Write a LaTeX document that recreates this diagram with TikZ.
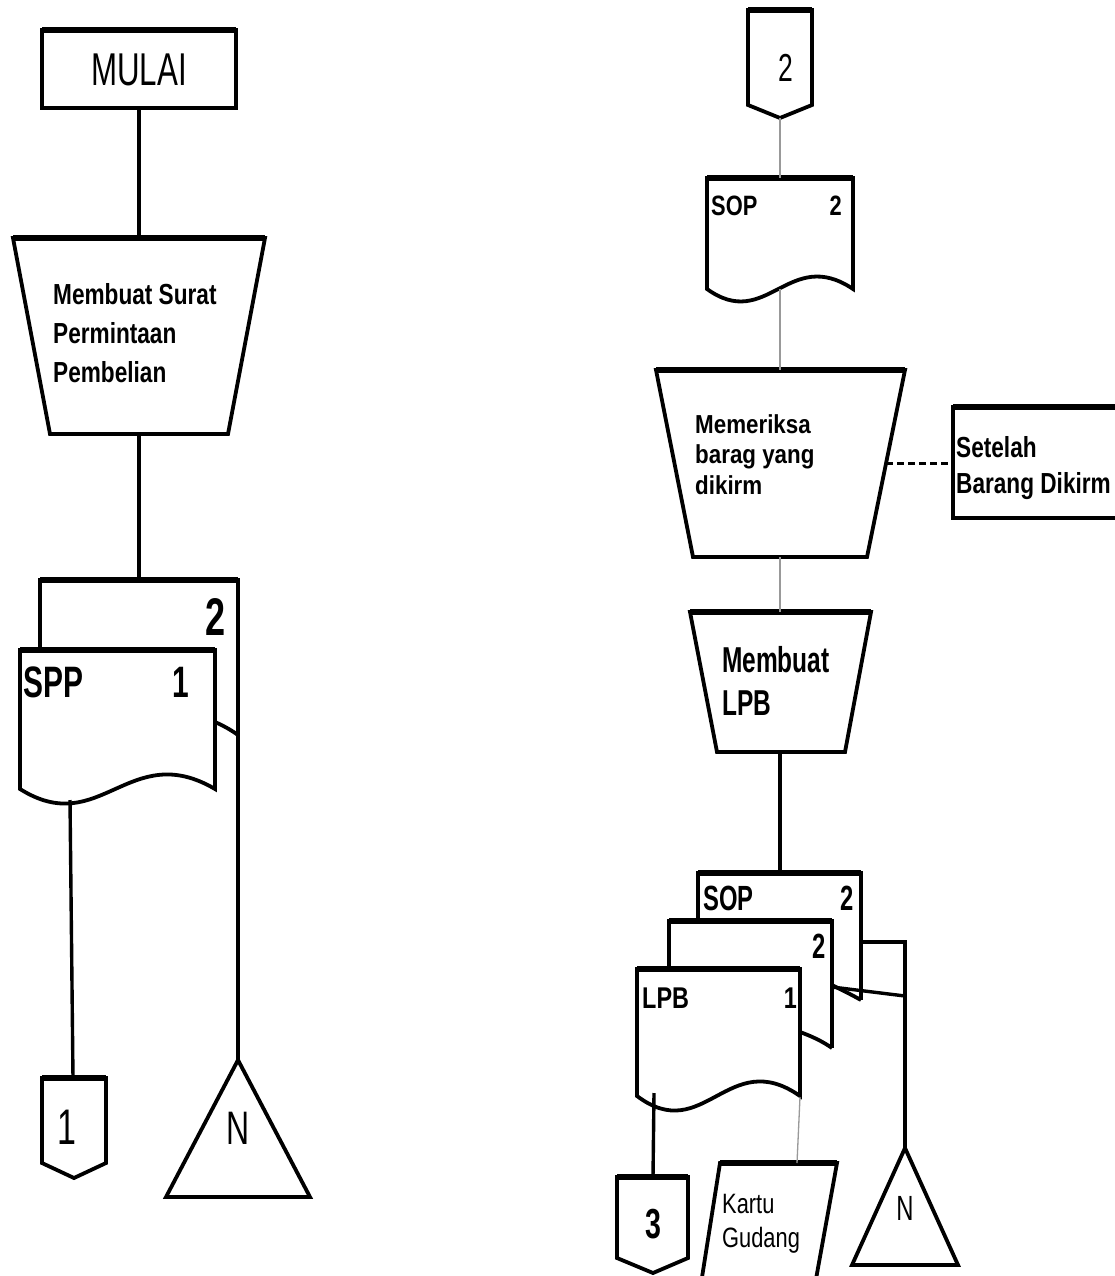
\documentclass[tikz,border=0pt]{standalone}
\usepackage{fontspec}
\newfontfamily\fA[FakeStretch=0.68]{Liberation Sans}
\newfontfamily\fB[FakeStretch=0.78]{Liberation Sans}
\newfontfamily\fC[FakeStretch=0.86]{Liberation Sans}
\tikzset{
  shp/.style={line width=3.8pt, draw=black, fill=white, line join=miter},
  topedge/.style={line width=5.5pt},
  conn/.style={line width=3.4pt, draw=black},
  grayconn/.style={line width=1.3pt, draw=black!40},
  dashconn/.style={line width=3pt, draw=black, dash pattern=on 7pt off 4pt},
  txt/.style={inner sep=0pt, anchor=base west},
}
\newcommand\docshape[5]{%
  \pgfmathsetmacro\dsXa{#3-0.44*(#3-#1)}%
  \pgfmathsetmacro\dsXb{#1+0.41*(#3-#1)}%
  \pgfmathsetmacro\dsYa{#4-3.6*#5}%
  \pgfmathsetmacro\dsYb{#4+3.6*#5}%
  \draw[shp] (#1,#4) -- (#1,#2) -- (#3,#2) -- (#3,#4) .. controls (\dsXa,\dsYa) and (\dsXb,\dsYb) .. (#1,#4) -- cycle;
  \draw[topedge] (#1,#2) -- (#3,#2);
}
\begin{document}
\begin{tikzpicture}[x=1pt,y=-1pt]
\useasboundingbox (0,0) rectangle (1115,1276);

% ================= LEFT COLUMN =================
% MULAI
\draw[shp] (42,30) rectangle (236,108);
\draw[topedge] (42,30) -- (236,30);
\node[txt, anchor=base] (mulai) at (139,86) {\fA\fontsize{46}{50}\selectfont MULAI};
\coordinate (mulaiB) at (139,108);

% Trapezoid 1
\draw[shp] (13,238) -- (265,238) -- (228,434) -- (50,434) -- cycle;
\draw[topedge] (13,238) -- (265,238);
\coordinate (trapAT) at (139,238);
\coordinate (trapAB) at (139,434);
\node[txt] (ta1) at (53,304) {\fB\bfseries\fontsize{29}{35}\selectfont Membuat Surat};
\node[txt] (ta2) at (53,343) {\fB\bfseries\fontsize{29}{35}\selectfont Permintaan};
\node[txt] (ta3) at (53,382) {\fB\bfseries\fontsize{29}{35}\selectfont Pembelian};

% Document stack SPP
\draw[shp] (40,660) -- (40,580) -- (238,580) -- (238,735);
\draw[topedge] (40,580) -- (238,580);
\coordinate (sppBackT) at (139,580);
\coordinate (sppBackR) at (238,735);
\node[txt, anchor=base east] (spp2) at (226,635) {\fA\bfseries\fontsize{53}{55}\selectfont 2};
\docshape{20}{650}{215}{789}{14}
\draw[line width=3.8pt] (215,722) .. controls (224,726) and (231,730) .. (238,735);
\node[txt] (sppT) at (23,697) {\fA\bfseries\fontsize{44}{48}\selectfont SPP};
\node[txt, anchor=base east] (spp1) at (189,697) {\fA\bfseries\fontsize{44}{48}\selectfont 1};
\coordinate (sppB) at (70,800);

% Off-page connector 1
\draw[shp] (42,1078) -- (106,1078) -- (106,1163) -- (74,1178) -- (42,1163) -- cycle;
\draw[topedge] (42,1078) -- (106,1078);
\coordinate (c1T) at (73,1078);
\node[txt, anchor=base] (c1) at (67,1144) {\fA\fontsize{50}{52}\selectfont 1};

% Triangle N (left)
\draw[shp] (238,1060) -- (310,1197) -- (166,1197) -- cycle;
\coordinate (nLT) at (238,1060);
\node[txt, anchor=base] (nL) at (238,1144) {\fA\fontsize{47}{50}\selectfont N};

% Left connectors
\draw[conn] (mulaiB) -- (trapAT);
\draw[conn] (trapAB) -- (sppBackT);
\draw[conn] (sppB) -- (c1T);
\draw[conn] (sppBackR) -- (nLT);

% ================= RIGHT COLUMN =================
% Off-page connector 2
\draw[shp] (748,10) -- (812,10) -- (812,105) -- (780,118) -- (748,105) -- cycle;
\draw[topedge] (748,10) -- (812,10);
\coordinate (c2B) at (780,118);
\node[txt, anchor=base] (c2) at (786,82) {\fA\fontsize{39}{42}\selectfont 2};

% SOP document (top)
\docshape{707}{178}{853}{289}{12}
\coordinate (sopT) at (780,178);
\coordinate (sopB) at (780,289);
\node[txt] (sopA) at (711,215) {\fB\bfseries\fontsize{28}{32}\selectfont SOP};
\node[txt, anchor=base east] (sopA2) at (842,215) {\fB\bfseries\fontsize{28}{32}\selectfont 2};

% Trapezoid 2
\draw[shp] (656,370) -- (905,370) -- (867,557) -- (693,557) -- cycle;
\draw[topedge] (656,370) -- (905,370);
\coordinate (trapBT) at (780,370);
\coordinate (trapBB) at (780,557);
\coordinate (trapBR) at (886,463);
\node[txt] (tb1) at (695,433) {\fC\bfseries\fontsize{26}{30}\selectfont Memeriksa};
\node[txt] (tb2) at (695,463) {\fC\bfseries\fontsize{26}{30}\selectfont barag yang};
\node[txt] (tb3) at (695,494) {\fC\bfseries\fontsize{26}{30}\selectfont dikirm};

% Note box
\draw[shp] (953,407) rectangle (1125,518);
\draw[topedge] (953,407) -- (1125,407);
\coordinate (noteL) at (953,463);
\node[txt] (nt1) at (956,457) {\fB\bfseries\fontsize{29}{33}\selectfont Setelah};
\node[txt] (nt2) at (956,493) {\fB\bfseries\fontsize{29}{33}\selectfont Barang Dikirm};

% Trapezoid 3
\draw[shp] (690,612) -- (871,612) -- (845,752) -- (717,752) -- cycle;
\draw[topedge] (690,612) -- (871,612);
\coordinate (trapCT) at (780,612);
\coordinate (trapCB) at (780,752);
\node[txt] (tc1) at (722,672) {\fA\bfseries\fontsize{36}{40}\selectfont Membuat};
\node[txt] (tc2) at (722,715) {\fA\bfseries\fontsize{36}{40}\selectfont LPB};

% Document stack SOP / 2 / LPB
\draw[shp] (698,930) -- (698,873) -- (861,873) -- (861,1000);
\draw[topedge] (698,873) -- (861,873);
\coordinate (stkT) at (780,873);
\coordinate (sopBR) at (861,942);
\node[txt] (sopC) at (703,910) {\fA\bfseries\fontsize{35}{38}\selectfont SOP};
\node[txt, anchor=base east] (sopC2) at (854,910) {\fA\bfseries\fontsize{35}{38}\selectfont 2};

\draw[shp] (669,980) -- (669,921) -- (832,921) -- (832,1048);
\draw[topedge] (669,921) -- (832,921);
\draw[line width=3.8pt] (832,985) .. controls (842,990) and (852,995) .. (861,1000);
\coordinate (midR) at (832,987);
\node[txt, anchor=base east] (mid2) at (826,958) {\fA\bfseries\fontsize{35}{38}\selectfont 2};

\docshape{637}{969}{800}{1096}{14}
\draw[line width=3.8pt] (800,1032) .. controls (811,1036) and (822,1041) .. (832,1048);
\node[txt] (lpbT) at (642,1008) {\fB\bfseries\fontsize{30}{34}\selectfont LPB};
\node[txt, anchor=base east] (lpb1) at (797,1008) {\fB\bfseries\fontsize{30}{34}\selectfont 1};
\coordinate (lpbB) at (654,1093);
\coordinate (lpbR) at (800,1097);

% Off-page connector 3
\draw[shp] (617,1177) -- (688,1177) -- (688,1258) -- (653,1273) -- (617,1258) -- cycle;
\draw[topedge] (617,1177) -- (688,1177);
\coordinate (c3T) at (653,1177);
\node[txt, anchor=base] (c3) at (653,1238) {\fA\bfseries\fontsize{42}{45}\selectfont 3};

% Kartu Gudang
\draw[shp] (720,1163) -- (837,1163) -- (814,1290) -- (700,1290) -- cycle;
\draw[topedge] (720,1163) -- (837,1163);
\coordinate (kgT) at (797,1163);
\node[txt] (kg1) at (722,1213) {\fB\fontsize{28}{32}\selectfont Kartu};
\node[txt] (kg2) at (722,1247) {\fB\fontsize{28}{32}\selectfont Gudang};

% Triangle N (right)
\draw[shp] (905,1148) -- (958,1265) -- (852,1265) -- cycle;
\coordinate (nRT) at (905,1148);
\coordinate (jn) at (905,996);
\node[txt, anchor=base] (nR) at (905,1220) {\fA\fontsize{35}{38}\selectfont N};

% Right connectors
\draw[grayconn] (c2B) -- (sopT);
\draw[grayconn] (sopB) -- (trapBT);
\draw[dashconn] (trapBR) -- (noteL);
\draw[grayconn] (trapBB) -- (trapCT);
\draw[conn] (trapCB) -- (stkT);
\draw[conn] (sopBR) -| (nRT);
\draw[conn] (midR) -- (jn);
\draw[conn] (lpbB) -- (c3T);
\draw[grayconn] (lpbR) -- (kgT);
\end{tikzpicture}
\end{document}
